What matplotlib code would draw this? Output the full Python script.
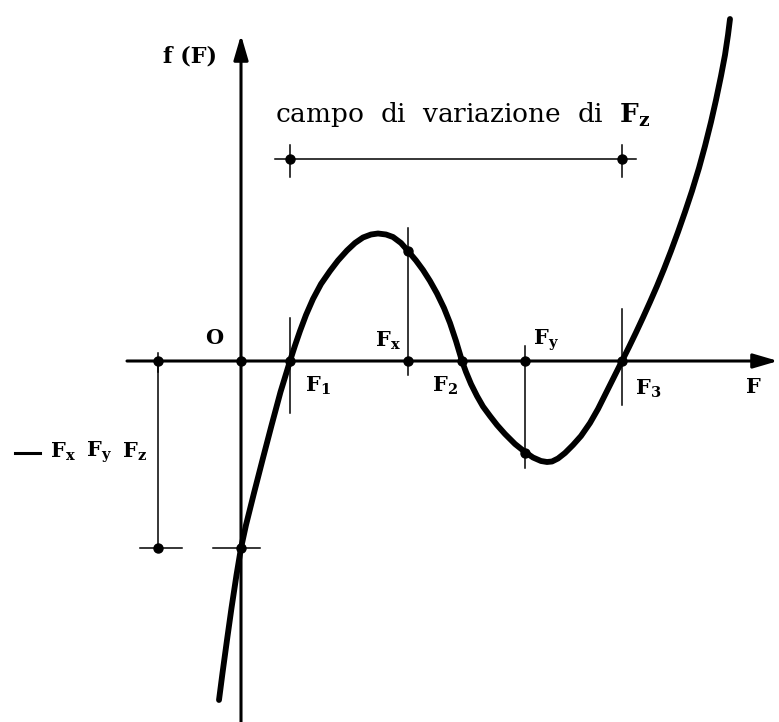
import sys

import numpy as np
import matplotlib
matplotlib.use("Agg")
import matplotlib.pyplot as plt

# f(F) traced point by point (F along the axis, f upward, origin at O)
curve_F = [-22, -18.5, -14, -9.5, -4.5, 0, 5, 13, 22, 30.5, 39.5, 49,
           54, 59, 65, 72, 80, 89, 97, 106, 114, 122, 130, 137, 145, 152,
           160, 167, 175, 182, 189, 196, 203, 209, 215, 221,
           225, 230, 236, 242, 249, 256, 264, 274, 284, 292, 300, 306, 311,
           317, 324, 332, 340, 349, 357, 364, 371, 376, 381,
           388, 395, 402, 409, 416, 423, 430, 437, 444, 451, 458, 464, 470,
           475, 480, 484, 487, 489]
curve_f = [-339, -312, -279, -247, -214, -187, -164, -132, -97, -64.5, -31, 0,
           15.5, 30, 46, 62, 77, 90, 100.5, 110.5, 118, 123.5, 126.5, 127.5,
           126.5, 124, 118, 110, 100.5, 91, 80, 67.5, 53, 38, 20, 0,
           -11, -23, -35, -45.5, -55, -64, -73, -83, -91, -96.5, -100, -101,
           -100.5, -97.5, -92, -84, -75, -62, -48, -34, -20, -10, 0,
           14, 28.5, 43.5, 59, 75, 92, 110, 129, 149, 170, 193, 215, 239,
           261, 285, 306, 326, 342]

# roots and marked abscissae
F1, F2, F3 = 49, 221, 381
Fx, Fy = 167, 284
f_Fx, f_Fy = 110, -92
f0 = -187          # intercept  -Fx Fy Fz
x_bracket = -83    # where the intercept is carried over on the left
campo_f = 202      # height of the "campo di variazione" segment

AX_LW = 2.2
THIN = 1.1
DOT = 6.5


def setup():
    plt.rcParams["font.family"] = ["DejaVu Serif"]
    plt.rcParams["mathtext.fontset"] = "dejavuserif"
    fig = plt.figure(figsize=(7.79, 7.22), dpi=100)
    ax = fig.add_axes([0, 0, 1, 1])
    ax.set_xlim(-241, 538)
    ax.set_ylim(-361, 361)
    ax.axis("off")
    return fig, ax


def arrow(ax, start, tip):
    ax.annotate("", xy=tip, xytext=start,
                arrowprops=dict(arrowstyle="-|>,head_length=0.75,head_width=0.22",
                                mutation_scale=20, lw=AX_LW, color="k",
                                shrinkA=0, shrinkB=0))


def main():
    fig, ax = setup()

    # axes with arrows
    arrow(ax, (-114, 0), (537, 0))
    arrow(ax, (0, -361), (0, 326))

    # the cubic
    ax.plot(curve_F, curve_f, color="k", lw=4.2, solid_capstyle="round",
            solid_joinstyle="round")

    # vertical marks at the roots and at Fx, Fy
    ax.plot([F1, F1], [43, -52], color="k", lw=THIN)
    ax.plot([F3, F3], [52, -44], color="k", lw=THIN)
    ax.plot([Fx, Fx], [133, -14], color="k", lw=THIN)
    ax.plot([Fy, Fy], [15, -107], color="k", lw=THIN)

    # intercept carried to the left
    ax.plot([x_bracket, x_bracket], [0, f0], color="k", lw=THIN)
    ax.plot([x_bracket, x_bracket], [8, -11], color="k", lw=THIN)
    ax.plot([x_bracket - 18, x_bracket + 24], [f0, f0], color="k", lw=THIN)
    ax.plot([-28, 19], [f0, f0], color="k", lw=THIN)

    # range of Fz
    ax.plot([F1 - 15, F3 + 14], [campo_f, campo_f], color="k", lw=THIN)
    for xx in (F1, F3):
        ax.plot([xx, xx], [campo_f + 14, campo_f - 18], color="k", lw=THIN)

    dots_F = [0, F1, Fx, F2, Fy, F3, Fx, Fy, 0, x_bracket, x_bracket, F1, F3]
    dots_f = [0, 0, 0, 0, 0, 0, f_Fx, f_Fy, f0, 0, f0, campo_f, campo_f]
    ax.plot(dots_F, dots_f, "o", color="k", ms=DOT, zorder=5)

    # labels
    kw = dict(color="k", fontsize=15)
    ax.text(-51, 304, "f (F)", ha="center", va="center", fontweight="bold",
            color="k", fontsize=16)
    ax.text(-27, 23, "O", ha="center", va="center", fontweight="bold", **kw)
    ax.text(34, 239, r"campo  di  variazione  di  $\mathbf{F_z}$",
            ha="left", va="baseline", color="k", fontsize=19)
    ax.text(160, 14, r"$\mathbf{F_x}$", ha="right", va="baseline", **kw)
    ax.text(292, 16, r"$\mathbf{F_y}$", ha="left", va="baseline", **kw)
    ax.text(64, -31, r"$\mathbf{F_1}$", ha="left", va="baseline", **kw)
    ax.text(191, -31, r"$\mathbf{F_2}$", ha="left", va="baseline", **kw)
    ax.text(394, -34, r"$\mathbf{F_3}$", ha="left", va="baseline", **kw)
    ax.text(504, -32, r"$\mathbf{F}$", ha="left", va="baseline", **kw)

    # -Fx Fy Fz beside the bracket
    ax.plot([-226, -201], [-92, -92], color="k", lw=2.2)
    for xx, s in zip([-191, -155, -119], ["x", "y", "z"]):
        ax.text(xx, -91, r"$\mathbf{F_%s}$" % s, ha="left", va="center", **kw)

    fig.savefig("out.png", dpi=100)


if __name__ == "__main__":
    sys.exit(main())
